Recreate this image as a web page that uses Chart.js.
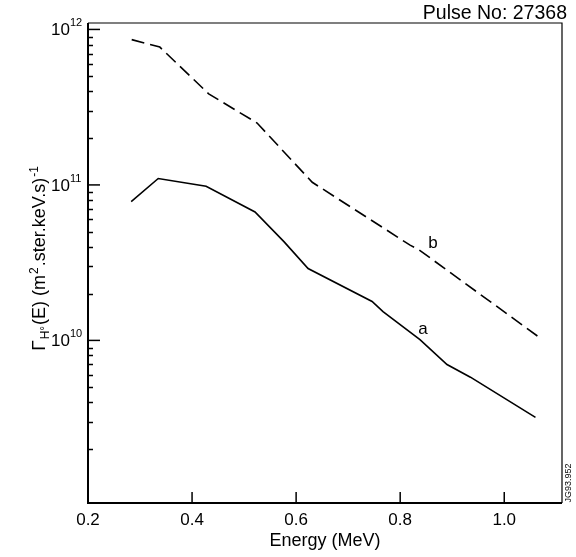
<!DOCTYPE html>
<html>
<head>
<meta charset="utf-8">
<script src="https://cdn.jsdelivr.net/npm/chart.js@4"></script>
<style>
  html, body { margin: 0; padding: 0; background: #fff; }
  canvas { display: block; }
</style>
</head>
<body>
<canvas id="spectre" width="576" height="557"></canvas>
<script>
// courbe a (trait plein) : énergie en MeV, flux
const energieA = [0.283, 0.335, 0.427, 0.521, 0.577, 0.623, 0.746, 0.767, 0.838, 0.890, 0.935, 1.060];
const fluxA    = [7.8e10, 1.1e11, 9.8e10, 6.7e10, 4.3e10, 2.9e10, 1.78e10, 1.53e10, 1.01e10, 7.0e9, 5.8e9, 3.2e9];
// courbe b (tirets)
const energieB = [0.284, 0.338, 0.432, 0.525, 0.631, 0.819, 0.835, 1.065];
const fluxB    = [8.6e11, 7.7e11, 3.85e11, 2.5e11, 1.04e11, 4.1e10, 3.85e10, 1.06e10];
// graduations
const ticksX = [0.2, 0.4, 0.6, 0.8, 1.0];
const decadesY = [10, 11, 12];
const decadesMineures = [9, 10, 11];
// lettres posées à côté des courbes
const etiquettes = [{ texte: 'a', x: 0.844, y: 1.17e10 }, { texte: 'b', x: 0.863, y: 4.2e10 }];

const police = '"Liberation Sans", Arial, Helvetica, sans-serif';

function points(xs, ys) {
  return xs.map((x, i) => ({ x: x, y: ys[i] }));
}

// dessin du cadre, des graduations vers l'intérieur et des textes
const habillage = {
  id: 'habillage',
  afterDraw(chart) {
    const ctx = chart.ctx;
    const a = chart.chartArea;
    const sx = chart.scales.x;
    const sy = chart.scales.y;
    ctx.save();
    ctx.strokeStyle = '#000';
    ctx.fillStyle = '#000';

    // cadre
    ctx.lineWidth = 2;
    ctx.beginPath();
    ctx.moveTo(a.left, a.top);
    ctx.lineTo(a.left, a.bottom);
    ctx.lineTo(a.right, a.bottom);
    ctx.stroke();
    ctx.lineWidth = 1.2;
    ctx.beginPath();
    ctx.moveTo(a.left, a.top);
    ctx.lineTo(a.right, a.top);
    ctx.lineTo(a.right, a.bottom);
    ctx.stroke();

    // graduations x
    ctx.lineWidth = 1.5;
    ctx.font = '17px ' + police;
    ctx.textAlign = 'center';
    ctx.textBaseline = 'alphabetic';
    ticksX.forEach(t => {
      const px = sx.getPixelForValue(t);
      ctx.beginPath();
      ctx.moveTo(px, a.bottom);
      ctx.lineTo(px, a.bottom - 11);
      ctx.stroke();
      ctx.fillText(t.toFixed(1), px, a.bottom + 22);
    });

    // graduations y mineures
    decadesMineures.forEach(d => {
      for (let m = 2; m <= 9; m++) {
        const v = m * Math.pow(10, d);
        if (v < sy.min || v > sy.max) continue;
        const py = Math.round(sy.getPixelForValue(v)) + 0.5;
        ctx.beginPath();
        ctx.moveTo(a.left, py);
        ctx.lineTo(a.left + 5, py);
        ctx.stroke();
      }
    });

    // décades avec étiquettes 10^n
    decadesY.forEach(d => {
      const py = sy.getPixelForValue(Math.pow(10, d));
      ctx.beginPath();
      ctx.moveTo(a.left, py);
      ctx.lineTo(a.left + 12, py);
      ctx.stroke();
      ctx.font = '17px ' + police;
      ctx.textAlign = 'right';
      ctx.fillText('10', a.left - 18, py + 6);
      ctx.font = '11px ' + police;
      ctx.textAlign = 'left';
      ctx.fillText(String(d), a.left - 18, py - 3);
    });

    // lettres a et b
    ctx.font = '17px ' + police;
    ctx.textAlign = 'center';
    ctx.textBaseline = 'middle';
    etiquettes.forEach(e => {
      ctx.fillText(e.texte, sx.getPixelForValue(e.x), sy.getPixelForValue(e.y));
    });

    // titre axe x
    ctx.font = '18px ' + police;
    ctx.textBaseline = 'alphabetic';
    ctx.fillText('Energy (MeV)', (a.left + a.right) / 2, 546);

    // numéro de choc
    ctx.font = '19.5px ' + police;
    ctx.textAlign = 'right';
    ctx.fillText('Pulse No: 27368', 567, 19);

    // référence verticale
    ctx.save();
    ctx.translate(569, 483);
    ctx.rotate(-Math.PI / 2);
    ctx.font = '9px ' + police;
    ctx.textAlign = 'center';
    ctx.textBaseline = 'middle';
    ctx.fillText('JG93.952', 0, 0);
    ctx.restore();

    // titre axe y, morceau par morceau (indices et exposants)
    const morceaux = [
      { t: 'Γ', f: 19, dy: 0 },
      { t: 'H°', f: 12, dy: 4 },
      { t: '(E) (m', f: 18, dy: 0 },
      { t: '2', f: 12, dy: -7 },
      { t: '.ster.keV.s)', f: 18, dy: 0 },
      { t: '-1', f: 12, dy: -7 }
    ];
    let largeur = 0;
    morceaux.forEach(m => {
      ctx.font = m.f + 'px ' + police;
      m.w = ctx.measureText(m.t).width + 1;
      largeur += m.w;
    });
    ctx.save();
    ctx.translate(45, 258);
    ctx.rotate(-Math.PI / 2);
    ctx.textAlign = 'left';
    ctx.textBaseline = 'alphabetic';
    let pos = -largeur / 2;
    morceaux.forEach(m => {
      ctx.font = m.f + 'px ' + police;
      ctx.fillText(m.t, pos, m.dy);
      pos += m.w;
    });
    ctx.restore();

    ctx.restore();
  }
};

new Chart(document.getElementById('spectre'), {
  type: 'line',
  data: {
    datasets: [
      {
        label: 'a',
        data: points(energieA, fluxA),
        borderColor: '#000',
        borderWidth: 1.6,
        pointRadius: 0,
        tension: 0,
        fill: false
      },
      {
        label: 'b',
        data: points(energieB, fluxB),
        borderColor: '#000',
        borderWidth: 1.6,
        borderDash: [13, 6],
        pointRadius: 0,
        tension: 0,
        fill: false
      }
    ]
  },
  options: {
    responsive: false,
    animation: false,
    layout: { padding: { left: 88, right: 14, top: 23, bottom: 54 } },
    plugins: { legend: { display: false }, tooltip: { enabled: false } },
    scales: {
      x: { type: 'linear', display: false, min: 0.2, max: 1.111 },
      y: { type: 'logarithmic', display: false, min: 9e8, max: 1.1e12 }
    }
  },
  plugins: [habillage]
});
</script>
</body>
</html>
